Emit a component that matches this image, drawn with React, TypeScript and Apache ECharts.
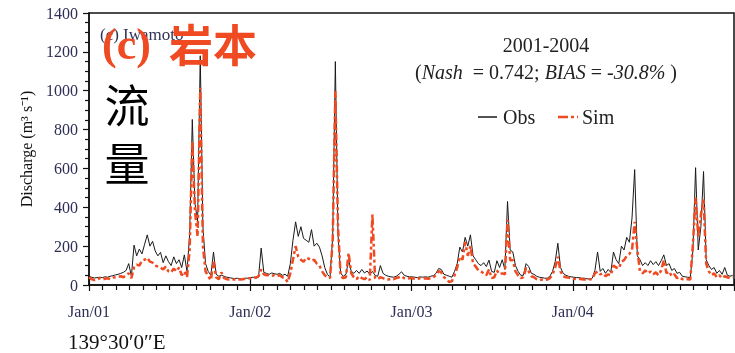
import React, { useEffect, useRef } from "react";
import * as echarts from "echarts";

// Daily discharge sampled every 6 days from 1 Jan 2001 (m3/s)
const STEP_DAYS = 6;
const obs: number[] = [
  // 2001
  45, 40, 36, 38, 40, 38, 42, 40, 45, 48, 52, 55, 60, 65, 75, 110, 45, 205, 150, 185,
  160, 210, 258, 200, 225, 175, 150, 168, 115, 150, 120, 100, 145, 110, 130, 90, 155, 70, 260, 852,
  420, 330, 1180, 300, 110, 70, 50, 170, 55, 45, 50, 45, 40, 38, 35, 33, 35, 32, 30, 35,
  35,
  // 2002
  38, 40, 35, 40, 190, 65, 60, 55, 62, 58, 55, 60, 50, 55, 45, 110, 230, 325, 250, 300,
  240, 230, 220, 285, 200, 215, 195, 150, 90, 55, 40, 250, 1150, 260, 60, 45, 55, 130, 70, 60,
  75, 60, 80, 62, 72, 55, 70, 50, 45, 100, 60, 50, 45, 42, 40, 45, 55, 68, 50, 45,
  42,
  // 2003
  42, 40, 38, 42, 40, 42, 40, 45, 48, 60, 85, 80, 55, 50, 45, 40, 70, 110, 195, 170,
  245, 200, 258, 150, 130, 110, 100, 115, 95, 128, 70, 65, 125, 90, 130, 80, 430, 180, 170, 100,
  70, 50, 50, 110, 95, 60, 55, 45, 40, 38, 35, 35, 45, 70, 120, 215, 90, 60, 50, 45,
  42,
  // 2004
  40, 38, 38, 35, 35, 32, 30, 35, 75, 170, 70, 85, 60, 80, 65, 170, 130, 110, 200, 180,
  245, 220, 345, 594, 150, 130, 100, 115, 100, 125, 105, 120, 100, 125, 155, 100, 110, 75, 85, 60,
  65, 45, 42, 40, 38, 180, 604, 180, 300, 584, 130, 100, 80, 90, 60, 75, 55, 90, 50, 45,
  50,
];
const sim: number[] = [
  // 2001
  40, 30, 25, 28, 35, 28, 32, 35, 30, 38, 40, 42, 45, 40, 50, 60, 35, 90, 105, 100,
  125, 130, 140, 120, 115, 100, 95, 90, 80, 95, 70, 65, 85, 70, 90, 50, 70, 40, 180, 740,
  380, 250, 1015, 200, 70, 45, 25, 120, 40, 30, 65, 35, 30, 28, 30, 28, 30, 28, 30, 32,
  35,
  // 2002
  35, 40, 38, 45, 80, 55, 50, 52, 48, 50, 45, 50, 40, 35, 15, 60, 130, 200, 145, 130,
  120, 140, 135, 125, 130, 110, 100, 70, 50, 40, 35, 230, 997, 300, 45, 35, 40, 165, 60, 40,
  30, 45, 35, 30, 40, 25, 362, 35, 30, 40, 35, 30, 28, 32, 30, 35, 40, 45, 35, 32,
  35,
  // 2003
  35, 32, 30, 35, 33, 35, 32, 35, 40, 50, 72, 65, 40, 30, 15, 20, 50, 90, 145, 130,
  222, 150, 200, 110, 95, 75, 70, 60, 50, 80, 35, 40, 75, 55, 60, 55, 335, 128, 128, 70,
  50, 36, 40, 88, 70, 45, 40, 30, 25, 28, 25, 28, 35, 55, 90, 145, 70, 45, 40, 38,
  35,
  // 2004
  32, 30, 32, 30, 28, 28, 30, 30, 60, 70, 55, 60, 45, 55, 50, 100, 90, 85, 120, 128,
  150, 160, 180, 325, 180, 70, 60, 75, 60, 70, 55, 65, 50, 75, 128, 60, 70, 45, 55, 35,
  40, 30, 32, 30, 28, 210, 450, 250, 360, 440, 110, 70, 50, 60, 40, 50, 35, 45, 40, 35,
  40,
];
const yearLabels = ["Jan/01", "Jan/02", "Jan/03", "Jan/04", "Jan/05"];
const seriesNames = ["Obs", "Sim"];
const titleText = "2001-2004";
const panelLabel = "(c) Iwamoto";

const SERIF = '"Liberation Serif", "Times New Roman", serif';
const CJK = '"Noto Sans CJK SC", "Noto Sans CJK JP", sans-serif';
const RED = "#ef4a22";
const OBS_COLOR = "#1a1a1a";
const SIM_DASH = [7, 3, 3, 3];

export default function App() {
  const ref = useRef<HTMLDivElement>(null);
  useEffect(() => {
    if (!ref.current) return;
    const chart = echarts.init(ref.current, null, { renderer: "svg" });
    const obsData = obs.map((v, i) => [i * STEP_DAYS, v]);
    const simData = sim.map((v, i) => [i * STEP_DAYS, v]);
    const xCommon = {
      type: "value" as const,
      min: 0,
      max: 1461,
      interval: 365.25,
      splitLine: { show: false },
    };
    chart.setOption({
      animation: false,
      grid: {
        left: 89,
        right: 1,
        top: 13,
        bottom: 68,
        show: true,
        borderColor: "#111",
        borderWidth: 1.5,
        backgroundColor: "transparent",
      },
      xAxis: [
        {
          ...xCommon,
          axisLine: { show: true, lineStyle: { color: "#111", width: 1.5 } },
          axisTick: { show: true, length: 6, lineStyle: { color: "#111", width: 1.2 } },
          minorTick: { show: true, splitNumber: 12, length: 5, lineStyle: { color: "#111", width: 1.2 } },
          axisLabel: {
            show: true,
            margin: 18,
            showMaxLabel: false,
            fontFamily: SERIF,
            fontSize: 16,
            color: "#2e2e55",
            formatter: (v: number) => yearLabels[Math.round(v / 365.25)] || "",
          },
        },
        {
          ...xCommon,
          position: "bottom",
          axisLine: { show: false },
          axisTick: { show: true, inside: true, length: 6, lineStyle: { color: "#111", width: 1.2 } },
          axisLabel: { show: false },
        },
      ],
      yAxis: {
        type: "value",
        min: 0,
        max: 1400,
        interval: 200,
        splitLine: { show: false },
        axisLine: { show: true, lineStyle: { color: "#111", width: 1.5 } },
        axisTick: { show: true, length: 6, lineStyle: { color: "#111", width: 1.2 } },
        minorTick: { show: true, splitNumber: 4, length: 4, lineStyle: { color: "#111", width: 1.2 } },
        axisLabel: {
          margin: 11,
          fontFamily: SERIF,
          fontSize: 16,
          color: "#2e2e55",
          formatter: (v: number) => String(v),
        },
        name: "Discharge (m³ s⁻¹)",
        nameLocation: "middle",
        nameGap: 55,
        nameRotate: 90,
        nameTextStyle: { fontFamily: SERIF, fontSize: 16, color: "#111" },
      },
      series: [
        {
          name: seriesNames[0],
          type: "line",
          data: obsData,
          showSymbol: false,
          symbol: "none",
          lineStyle: { color: OBS_COLOR, width: 1 },
          itemStyle: { color: OBS_COLOR },
          z: 2,
        },
        {
          name: seriesNames[1],
          type: "line",
          data: simData,
          showSymbol: false,
          symbol: "none",
          lineStyle: { color: RED, width: 2.5, type: SIM_DASH },
          itemStyle: { color: RED },
          z: 3,
        },
      ],
      graphic: [
        {
          type: "text",
          x: 100,
          y: 34,
          z: 10,
          style: { text: panelLabel, fill: "#333355", font: `17px ${SERIF}`, textAlign: "left", verticalAlign: "middle" },
        },
        {
          type: "text",
          x: 102,
          y: 44,
          z: 11,
          style: { text: "(c)", fill: RED, font: `bold 44px ${SERIF}`, textAlign: "left", verticalAlign: "middle" },
        },
        {
          type: "text",
          x: 169,
          y: 43,
          z: 11,
          style: { text: "岩本", fill: RED, font: `bold 44px ${CJK}`, textAlign: "left", verticalAlign: "middle" },
        },
        {
          type: "text",
          x: 127,
          y: 132,
          z: 11,
          style: {
            text: "流\n量",
            fill: "#000",
            font: `45px ${CJK}`,
            lineHeight: 58,
            textAlign: "center",
            verticalAlign: "middle",
          },
        },
        {
          type: "text",
          x: 546,
          y: 45,
          z: 10,
          style: { text: titleText, fill: "#222", font: `20px ${SERIF}`, textAlign: "center", verticalAlign: "middle" },
        },
        {
          type: "text",
          x: 546,
          y: 72,
          z: 10,
          style: {
            text: "{n|(}{i|Nash}{n|  = 0.742; }{i|BIAS}{n| = }{i|-30.8%}{n| )}",
            textAlign: "center",
            verticalAlign: "middle",
            rich: {
              n: { fontFamily: SERIF, fontSize: 20, fill: "#222" },
              i: { fontFamily: SERIF, fontSize: 20, fontStyle: "italic", fill: "#222" },
            },
          },
        },
        // legend
        {
          type: "line",
          z: 10,
          shape: { x1: 478, y1: 117, x2: 497, y2: 117 },
          style: { stroke: OBS_COLOR, lineWidth: 1.5 },
        },
        {
          type: "text",
          x: 503,
          y: 117,
          z: 10,
          style: { text: seriesNames[0], fill: "#222", font: `20px ${SERIF}`, textAlign: "left", verticalAlign: "middle" },
        },
        {
          type: "line",
          z: 10,
          shape: { x1: 558, y1: 117, x2: 578, y2: 117 },
          style: { stroke: RED, lineWidth: 2.5, lineDash: [10, 3, 3, 3] },
        },
        {
          type: "text",
          x: 582,
          y: 117,
          z: 10,
          style: { text: seriesNames[1], fill: "#222", font: `20px ${SERIF}`, textAlign: "left", verticalAlign: "middle" },
        },
        {
          type: "text",
          x: 68,
          y: 342,
          z: 10,
          style: { text: "139°30′0″E", fill: "#111", font: `21px ${SERIF}`, textAlign: "left", verticalAlign: "middle" },
        },
      ],
    });
    return () => chart.dispose();
  }, []);
  return <div ref={ref} style={{ position: "fixed", left: 0, top: 0, width: 735, height: 353 }} />;
}
